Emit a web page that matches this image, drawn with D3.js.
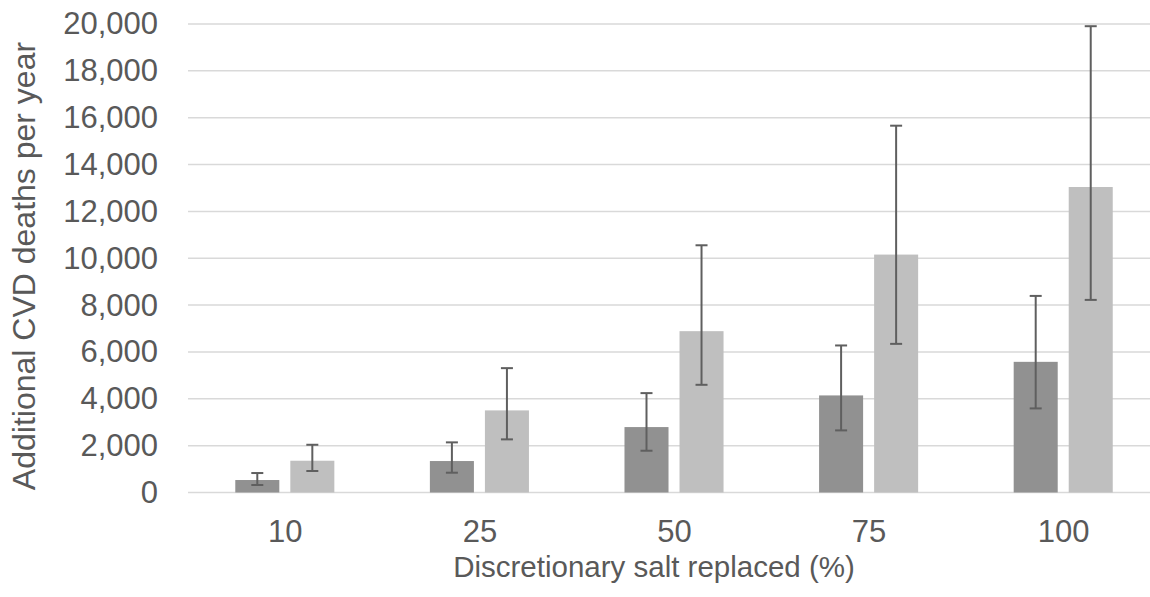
<!DOCTYPE html>
<html lang="en">
<head>
<meta charset="utf-8">
<title>Additional CVD deaths</title>
<style>
  body { margin: 0; background: #fff; overflow: hidden; }
  svg text { font-family: "Liberation Sans", Arial, sans-serif; fill: #595959; }
</style>
</head>
<body>
<div id="chart"></div>
<script src="https://cdnjs.cloudflare.com/ajax/libs/d3/7.8.5/d3.min.js"></script>
<script>
// data
var categories = ["10", "25", "50", "75", "100"];
var series = ["low", "high"];
var lowValues  = [533, 1343, 2793, 4144, 5578];
var lowErrLo   = [320, 845, 1783, 2652, 3590];
var lowErrHi   = [831, 2140, 4243, 6277, 8392];
var highValues = [1356, 3505, 6887, 10157, 13041];
var highErrLo  = [917, 2268, 4597, 6345, 8222];
var highErrHi  = [2038, 5309, 10554, 15659, 19906];
var yTicks = [0, 2000, 4000, 6000, 8000, 10000, 12000, 14000, 16000, 18000, 20000];
var colors = {low: "#919191", high: "#bfbfbf"};

var width = 1150, height = 597;
var margin = {top: 24, right: -11, bottom: 104.5, left: 188};

var svg = d3.select("#chart").append("svg")
    .attr("width", width)
    .attr("height", height)
    .style("display", "block");

var x0 = d3.scaleBand()
    .domain(categories)
    .range([margin.left, width - margin.right])
    .padding(0);

var x1 = d3.scaleBand()
    .domain(series)
    .range([x0.bandwidth() * 0.243, x0.bandwidth() * 0.752])
    .paddingInner(0.2);

var y = d3.scaleLinear()
    .domain([0, 20000])
    .range([height - margin.bottom, margin.top]);

// gridlines
svg.append("g")
    .selectAll("line")
    .data(yTicks)
    .enter().append("line")
    .attr("x1", margin.left)
    .attr("x2", width - margin.right)
    .attr("y1", function(d){ return y(d); })
    .attr("y2", function(d){ return y(d); })
    .attr("stroke", "#d9d9d9")
    .attr("stroke-width", 1.5);

// y axis labels
var yAxis = d3.axisLeft(y)
    .tickValues(yTicks)
    .tickFormat(d3.format(","))
    .tickSize(0)
    .tickPadding(30);
var gy = svg.append("g")
    .attr("transform", "translate(" + margin.left + ",0)")
    .call(yAxis);
gy.select(".domain").remove();
gy.selectAll("text")
    .attr("font-size", 31)
    .attr("font-family", "Liberation Sans, Arial, sans-serif")
    .style("fill", "#595959");

// bars
var rows = categories.map(function(c, i) {
    return [
        {cat: c, s: "low", v: lowValues[i], lo: lowErrLo[i], hi: lowErrHi[i]},
        {cat: c, s: "high", v: highValues[i], lo: highErrLo[i], hi: highErrHi[i]}
    ];
});
var flat = [].concat.apply([], rows);

svg.append("g")
    .selectAll("rect")
    .data(flat)
    .enter().append("rect")
    .attr("x", function(d){ return x0(d.cat) + x1(d.s); })
    .attr("y", function(d){ return y(d.v); })
    .attr("width", x1.bandwidth())
    .attr("height", function(d){ return y(0) - y(d.v); })
    .attr("fill", function(d){ return colors[d.s]; });

// error bars
var cap = 6;
var mid = function(d){ return x0(d.cat) + x1(d.s) + x1.bandwidth() / 2; };
var err = svg.append("g")
    .selectAll("g")
    .data(flat)
    .enter().append("g")
    .attr("stroke", "#5f5f5f")
    .attr("stroke-width", 2);
err.append("line")
    .attr("x1", mid)
    .attr("x2", mid)
    .attr("y1", function(d){ return y(d.lo); })
    .attr("y2", function(d){ return y(d.hi); });
err.append("line")
    .attr("x1", function(d){ return mid(d) - cap; })
    .attr("x2", function(d){ return mid(d) + cap; })
    .attr("y1", function(d){ return y(d.hi); })
    .attr("y2", function(d){ return y(d.hi); });
err.append("line")
    .attr("x1", function(d){ return mid(d) - cap; })
    .attr("x2", function(d){ return mid(d) + cap; })
    .attr("y1", function(d){ return y(d.lo); })
    .attr("y2", function(d){ return y(d.lo); });

// x axis labels
var xAxis = d3.axisBottom(x0).tickSize(0).tickPadding(27);
var gx = svg.append("g")
    .attr("transform", "translate(0," + y(0) + ")")
    .call(xAxis);
gx.select(".domain").remove();
gx.selectAll("text")
    .attr("font-size", 31)
    .attr("font-family", "Liberation Sans, Arial, sans-serif")
    .style("fill", "#595959");

// axis titles
svg.append("text")
    .attr("x", 654)
    .attr("y", 577)
    .attr("text-anchor", "middle")
    .attr("font-size", 29.5)
    .text("Discretionary salt replaced (%)");

svg.append("text")
    .attr("transform", "translate(35,266) rotate(-90)")
    .attr("text-anchor", "middle")
    .attr("font-size", 32)
    .text("Additional CVD deaths per year");
</script>
</body>
</html>
